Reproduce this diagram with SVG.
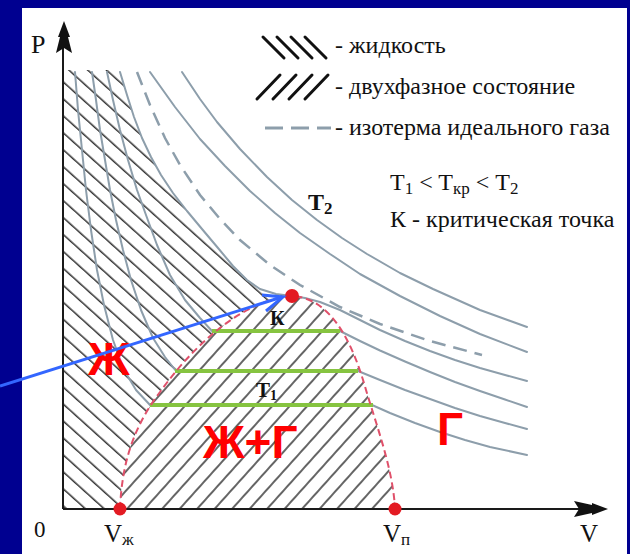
<svg xmlns="http://www.w3.org/2000/svg" width="630" height="554" viewBox="0 0 630 554">
<defs>
<style>
.iso{fill:none;stroke:#8d9eab;stroke-width:2;stroke-linejoin:round;stroke-linecap:round}
.isod{fill:none;stroke:#8d9eab;stroke-width:2.5;stroke-dasharray:14 8}
.tie{stroke:#86c440;stroke-width:4}
.dome{fill:none;stroke:#e0506a;stroke-width:2;stroke-dasharray:7 4}
.t{font-family:"Liberation Serif","Times New Roman",serif;fill:#111}
.r{font-family:"Liberation Sans",Arial,sans-serif;font-weight:bold;fill:#ff0000}
.pt{fill:#e31b23}
.ax{stroke:#1a1a1a;stroke-width:2;fill:none}
.hs{stroke:#111;stroke-width:3;stroke-linecap:round}
</style>
<pattern id="hLiq" width="12.6" height="12.6" patternUnits="userSpaceOnUse" patternTransform="rotate(42)">
<line x1="-1" y1="6" x2="14" y2="6" stroke="#111" stroke-width="1.3"/>
</pattern>
<pattern id="hTwo" width="13" height="13" patternUnits="userSpaceOnUse" patternTransform="rotate(-48)">
<line x1="-1" y1="6" x2="14" y2="6" stroke="#111" stroke-width="1.3"/>
</pattern>
</defs>

<rect x="0" y="0" width="630" height="554" fill="#000090"/>
<rect x="22" y="8" width="605" height="546" fill="#ffffff"/>

<g id="liquid-region">
<path fill="url(#hLiq)" d="M63,70 L120,70 L127,95 L134,117 L142,138 L151,157 L161,175 L173,193 L187,211 L202,229 L218,248 L233,266 L247,280 L260,289 L276,294 L292,296 C240,300 190,350 160,392 C135,425 122,460 120,509 L63,509 Z"/>
</g>
<g id="two-phase-region">
<path fill="url(#hTwo)" d="M120,509 C122,460 135,425 160,392 C190,350 240,300 292,296 C330,298 352,340 366,390 C378,430 393,470 395,509 Z"/>
</g>

<g id="isotherms">
<polyline id="iso-T2a" class="iso" points="182,72 200,99 217,122 240,149 267,177 292,200 317,220 342,238 367,254 400,273 433,289 480,310 527,327"/>
<polyline id="iso-T2b" class="iso" points="150,72 175,107 200,139 225,166 250,191 275,213 300,233 330,254 360,274 400,296 440,316 480,334 527,352"/>
<polyline id="iso-ideal" class="isod" points="137,72 150,105 165,138 180,165 200,195 220,219 240,240 270,265 300,285 340,307 380,324 430,341 482,355"/>
<polyline id="iso-crit" class="iso" points="120,72 127,95 134,117 142,138 151,157 161,175 173,193 187,211 202,229 218,248 233,266 247,280 260,289 276,294 292,296 305,298 320,302 340,310 360,320 380,330 405,341 430,351 455,360 480,368 505,375 527,381"/>
<polyline id="iso-A-liq" class="iso" points="107,72 113,100 120,130 128,160 137,190 146,215 157,245 170,275 185,300 200,318 212,331"/>
<polyline id="iso-A-gas" class="iso" points="340,331 360,341 380,350.5 405,361.5 430,372 455,382 480,391 505,399.5 527,407"/>
<polyline id="iso-B-liq" class="iso" points="92,72 96,100 100,130 105,160 110,190 116,220 123,250 131,280 141,310 153,338 165,357 176,371"/>
<polyline id="iso-B-gas" class="iso" points="358,371 380,380 405,390 430,399 455,408 480,416 505,423 527,429"/>
<polyline id="iso-C-liq" class="iso" points="75,72 78,110 82,150 86,190 91,230 97,270 104,305 113,340 124,370 136,390 150,405"/>
<polyline id="iso-C-gas" class="iso" points="372,405 390,413 415,423 440,432 465,440 490,447 527,455"/>
</g>

<g id="tie-lines">
<line class="tie" x1="212" y1="331" x2="340" y2="331"/>
<line class="tie" x1="175" y1="371" x2="358" y2="371"/>
<line class="tie" x1="150" y1="405" x2="373" y2="405"/>
</g>

<g id="binodal">
<path class="dome" d="M120,509 C122,460 135,425 160,392 C190,350 240,300 292,296 C330,298 352,340 366,390 C378,430 393,470 395,509"/>
</g>

<g id="axes">
<line class="ax" x1="63" y1="509" x2="63" y2="46"/>
<line class="ax" x1="63" y1="509" x2="580" y2="509"/>
<path fill="#111" d="M64,21 L70,37 L68,37 L72,53 L64,48 L56,53 L60,37 L58,37 Z"/>
<path fill="#111" d="M608,509 L592,503 L592,505 L574,501 L579,509 L574,517 L592,513 L592,515 Z"/>
<text class="t" x="31" y="53" font-size="26">P</text>
<text class="t" x="34" y="537" font-size="23">0</text>
<text class="t" x="580" y="542" font-size="25">V</text>
</g>

<g id="point-Vzh">
<circle class="pt" cx="120" cy="509" r="6.5"/>
<text class="t" x="104" y="542" font-size="25">V<tspan font-size="17" dy="3">ж</tspan></text>
</g>
<g id="point-Vp">
<circle class="pt" cx="395" cy="509" r="6.5"/>
<text class="t" x="383" y="542" font-size="25">V<tspan font-size="17" dy="3">п</tspan></text>
</g>
<g id="point-K">
<circle class="pt" cx="292" cy="296" r="7"/>
<text class="t" x="270" y="325" font-size="20" font-weight="bold">К</text>
</g>

<g id="labels">
<text class="t" x="256" y="397" font-size="21" font-weight="bold">T<tspan font-size="14" dy="3">1</tspan></text>
<text class="t" x="308" y="210" font-size="24" font-weight="bold">T<tspan font-size="17" dy="4">2</tspan></text>
<text class="r" x="88" y="375" font-size="46">Ж</text>
<text class="r" x="203" y="458" font-size="46">Ж+Г</text>
<text class="r" x="437" y="445" font-size="46">Г</text>
</g>

<g id="legend">
<line class="hs" x1="263" y1="37" x2="284" y2="58"/>
<line class="hs" x1="277" y1="37" x2="298" y2="58"/>
<line class="hs" x1="291" y1="37" x2="312" y2="58"/>
<line class="hs" x1="305" y1="37" x2="326" y2="58"/>
<text class="t" x="335" y="53" font-size="24">- жидкость</text>
<line class="hs" x1="257" y1="99" x2="280" y2="75"/>
<line class="hs" x1="273" y1="99" x2="296" y2="75"/>
<line class="hs" x1="289" y1="99" x2="312" y2="75"/>
<line class="hs" x1="305" y1="99" x2="328" y2="75"/>
<text class="t" x="335" y="94" font-size="24">- двухфазное состояние</text>
<line x1="265" y1="128" x2="283" y2="128" stroke="#8d9eab" stroke-width="3"/>
<line x1="291" y1="128" x2="309" y2="128" stroke="#8d9eab" stroke-width="3"/>
<line x1="317" y1="128" x2="331" y2="128" stroke="#8d9eab" stroke-width="3"/>
<text class="t" x="335" y="135" font-size="24">- изотерма идеального газа</text>
<text class="t" x="390" y="190" font-size="24">T<tspan font-size="17" dy="4">1</tspan><tspan dy="-4"> &lt; T</tspan><tspan font-size="17" dy="4">кр</tspan><tspan dy="-4"> &lt; T</tspan><tspan font-size="17" dy="4">2</tspan></text>
<text class="t" x="390" y="227" font-size="24">К - критическая точка</text>
</g>

<g id="connectors">
<line x1="0" y1="386" x2="282" y2="297" stroke="#3366ff" stroke-width="3"/>
<polyline points="262,295 283,297 266,311" fill="none" stroke="#3366ff" stroke-width="3" stroke-linejoin="miter"/>
</g>
</svg>
